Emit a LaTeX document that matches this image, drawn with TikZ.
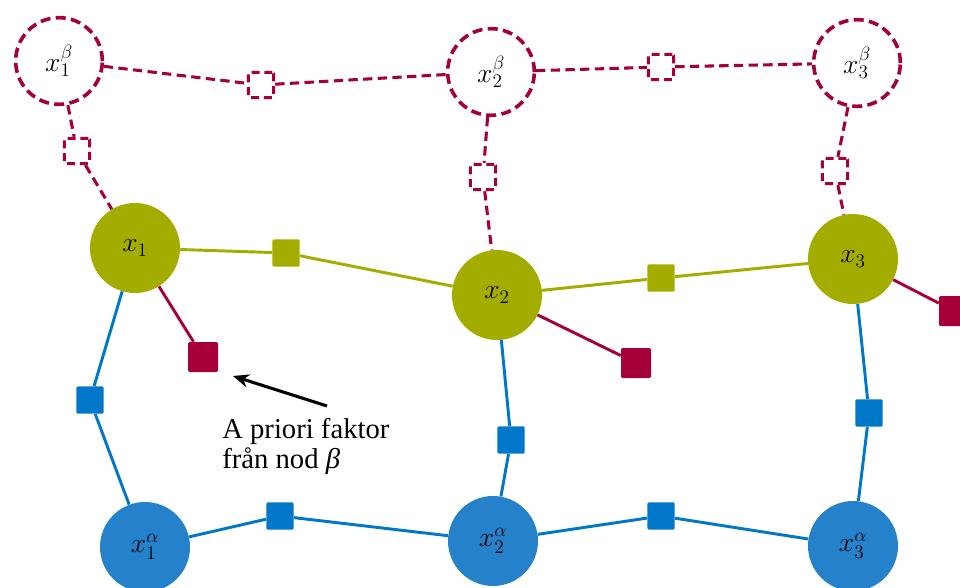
\documentclass[tikz,border=0pt]{standalone}
\usepackage{fontspec}
\setmainfont{Liberation Serif}
\usetikzlibrary{arrows.meta}
\definecolor{cred}{HTML}{A6003A}
\definecolor{cgreen}{HTML}{A2AD00}
\definecolor{cblue}{HTML}{0077C8}
\definecolor{cbluefill}{HTML}{2582CA}
\tikzset{
  varnode/.style={circle,minimum size=67.5pt,inner sep=0pt,font=\fontsize{21}{25}\selectfont},
  greennode/.style={varnode,fill=cgreen},
  bluenode/.style={varnode,fill=cbluefill},
  betanode/.style={varnode,draw=cred,line width=2.7pt,dash pattern=on 7.5pt off 4pt,minimum size=65pt,fill=white},
  fac/.style={rectangle,minimum size=20.5pt,inner sep=0pt,rounded corners=1pt},
  greenfac/.style={fac,fill=cgreen},
  bluefac/.style={fac,fill=cblue},
  priorfac/.style={fac,fill=cred,minimum size=22.5pt},
  betafac/.style={fac,draw=cred,line width=2.3pt,dash pattern=on 6pt off 3.5pt,minimum size=19pt,fill=white},
  greenedge/.style={draw=cgreen,line width=2.2pt},
  blueedge/.style={draw=cblue,line width=2.2pt},
  prioredge/.style={draw=cred,line width=2.2pt},
  betaedge/.style={draw=cred,line width=2.3pt,dash pattern=on 7pt off 4pt},
}
\begin{document}
\begin{tikzpicture}[x=0.75pt,y=-0.75pt]
\useasboundingbox (0,0) rectangle (960,588);
% beta nodes
\node[betanode] (b1) at (59,61) {$x_1^\beta$};
\node[betanode] (b2) at (491,72) {$x_2^\beta$};
\node[betanode] (b3) at (857,63) {$x_3^\beta$};
% green nodes
\node[greennode] (x1) at (135,248) {$x_1$};
\node[greennode] (x2) at (497,295) {$x_2$};
\node[greennode] (x3) at (853,259) {$x_3$};
% blue nodes
\node[bluenode] (a1) at (145,547) {$x_1^\alpha$};
\node[bluenode] (a2) at (493,541) {$x_2^\alpha$};
\node[bluenode] (a3) at (853,546) {$x_3^\alpha$};
% factors
\node[betafac] (fb12) at (261,85) {};
\node[betafac] (fb23) at (661,67) {};
\node[betafac] (fb1) at (77,151) {};
\node[betafac] (fb2) at (483,177) {};
\node[betafac] (fb3) at (835,171) {};
\node[greenfac] (fg12) at (286,253) {};
\node[greenfac] (fg23) at (661,278) {};
\node[priorfac] (p1) at (203,357) {};
\node[priorfac] (p2) at (636,363) {};
\node[priorfac] (p3) at (954,311) {};
\node[bluefac] (fa1) at (90,400) {};
\node[bluefac] (fa2) at (511,440) {};
\node[bluefac] (fa3) at (869,413) {};
\node[bluefac] (fa12) at (280,516) {};
\node[bluefac] (fa23) at (661,516) {};
% connectors
\draw[betaedge] (b1) -- (fb12) -- (b2) -- (fb23) -- (b3);
\draw[betaedge] (b1) -- (fb1) -- (x1);
\draw[betaedge] (b2) -- (fb2) -- (x2);
\draw[betaedge] (b3) -- (fb3) -- (x3);
\draw[greenedge] (x1) -- (fg12) -- (x2) -- (fg23) -- (x3);
\draw[prioredge] (x1) -- (p1);
\draw[prioredge] (x2) -- (p2);
\draw[prioredge] (x3) -- (p3);
\draw[blueedge] (x1) -- (fa1) -- (a1);
\draw[blueedge] (x2) -- (fa2) -- (a2);
\draw[blueedge] (x3) -- (fa3) -- (a3);
\draw[blueedge] (a1) -- (fa12) -- (a2) -- (fa23) -- (a3);
% annotation
\node[align=left,anchor=north west,inner sep=0pt,font=\fontsize{21.5}{22.5}\selectfont] (lbl) at (222,418) {A priori faktor\\från nod \textit{β}};
\coordinate (arrs) at (327,406);
\coordinate (arre) at (233,376);
\draw[line width=2.3pt,-{Stealth[length=12pt,width=10pt]}] (arrs) -- (arre);
\end{tikzpicture}
\end{document}
